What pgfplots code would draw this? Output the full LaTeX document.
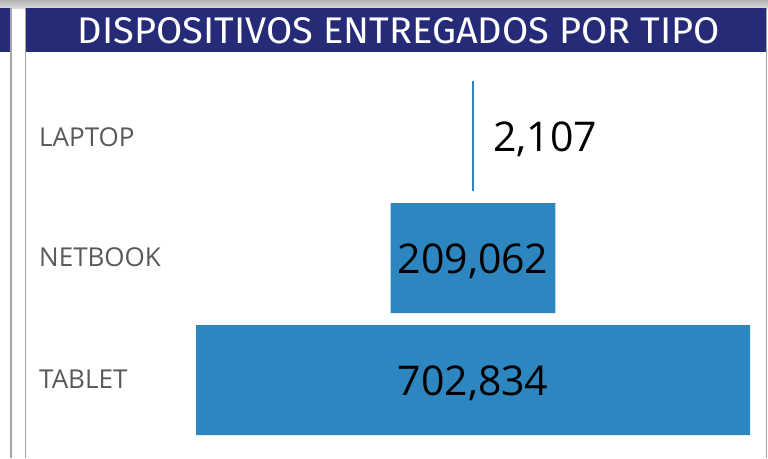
\documentclass[border=0pt]{standalone}
\usepackage{fontspec}
\setmainfont{Open Sans}
\newfontfamily\titlefont{Fira Sans}
\usepackage{graphicx}
\usepackage{pgfplots}
\pgfplotsset{compat=1.18}
\usepackage{pgfplotstable}
\definecolor{navy}{HTML}{262B78}
\definecolor{barblue}{HTML}{2E86C1}
\definecolor{lab}{HTML}{595959}
\definecolor{frame}{HTML}{A6A6A6}

% idx: 0 = TABLET, 1 = NETBOOK, 2 = LAPTOP
% offset = blank space left of each centred bar
\pgfplotstableread{
idx offset value
0 0 702834
1 246886 209062
2 350363.5 2107
}\funnel

\begin{document}
\begin{tikzpicture}[x=1pt,y=1pt]
% background and frame
\fill[white] (0,0) rectangle (768,-458);
\shade[top color=gray!60, bottom color=gray!30] (0,0) rectangle (768,-8);
\fill[navy] (0,-8) rectangle (10,-52);
\draw[frame, line width=1.2pt] (11,-8) -- (11,-458);
\draw[frame, line width=1.5pt] (25.5,-8) -- (25.5,-458);
\draw[frame, line width=1.5pt] (766.5,-8) -- (766.5,-458);
\fill[navy] (26,-8) rectangle (766,-52);
\node[white, inner sep=0] at (399,-31) {\resizebox{642pt}{26pt}{\titlefont DISPOSITIVOS ENTREGADOS POR TIPO}};

% category labels
\begin{scope}[every node/.style={anchor=west, inner sep=0, text=lab, font=\fontsize{26}{26}\selectfont}]
\node at (39,-137) {LAPTOP};
\node at (39,-257) {NETBOOK};
\node at (39,-379) {TABLET};
\end{scope}

\begin{axis}[
  at={(196pt,-441pt)}, anchor=south west,
  scale only axis, width=554pt, height=366pt,
  xmin=0, xmax=702834, ymin=-0.5, ymax=2.5,
  hide axis, clip=false,
  xbar stacked, bar width=110pt,
]
\addplot[draw=none, fill=none] table[x=offset, y=idx] {\funnel};
\addplot[draw=none, fill=barblue] table[x=value, y=idx] {\funnel};
\coordinate (vt) at (axis cs:351417,0);
\coordinate (vn) at (axis cs:351417,1);
\coordinate (vl) at (axis cs:376800,2);
\end{axis}
\begin{scope}[every node/.style={inner sep=0, font=\fontsize{41}{41}\selectfont}]
\node at ([yshift=-3pt]vt) {702,834};
\node at ([yshift=-3pt]vn) {209,062};
\node[anchor=west] at ([yshift=-3pt]vl) {2,107};
\end{scope}
\end{tikzpicture}
\end{document}
